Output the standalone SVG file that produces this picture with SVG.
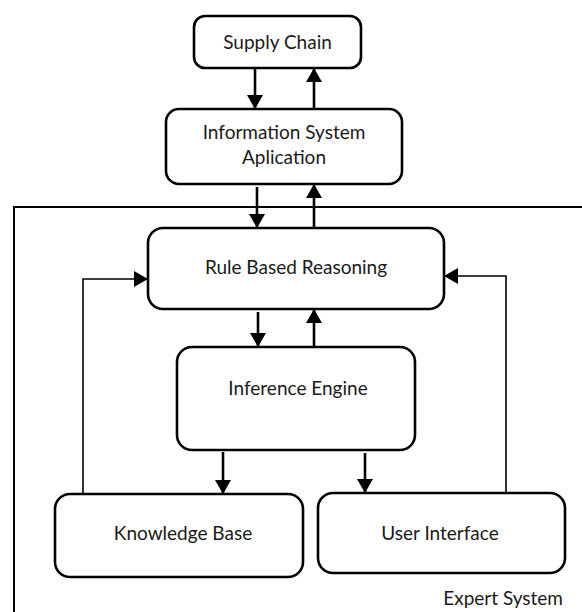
<svg xmlns="http://www.w3.org/2000/svg" width="582" height="612" viewBox="0 0 582 612">
<defs>
<style>
.box{fill:#fff;stroke:#000;stroke-width:2.6}
.t{font-family:Lato,"Liberation Sans",sans-serif;font-size:19px;fill:#1a1a1a;text-anchor:middle}
.a{stroke:#000;stroke-width:2.6;fill:none}
.l{stroke:#000;stroke-width:1.6;fill:none}
</style>
<marker id="ah" markerWidth="16" markerHeight="16" viewBox="0 0 16 16" refX="14" refY="8" orient="auto" markerUnits="userSpaceOnUse">
<path d="M0,0 L14,8 L0,16 Z" fill="#000"/>
</marker>
</defs>
<rect width="582" height="612" fill="#fff"/>
<g id="expert-system-frame">
<path d="M14,612 L14,207 L584,207" class="l" style="stroke-width:2"/>
<text x="563" y="605" class="t" style="text-anchor:end">Expert System</text>
</g>
<g id="supply-chain">
<rect x="194" y="16" width="167" height="52" rx="11" class="box"/>
<text x="277.5" y="49" class="t">Supply Chain</text>
</g>
<g id="information-system">
<rect x="166" y="109" width="236" height="75" rx="13" class="box"/>
<text x="284" y="139" class="t">Information System</text>
<text x="284" y="164" class="t">Aplication</text>
</g>
<g id="rule-based-reasoning">
<rect x="148" y="228" width="296" height="81" rx="15" class="box"/>
<text x="296" y="274" class="t">Rule Based Reasoning</text>
</g>
<g id="inference-engine">
<rect x="177" y="347" width="238" height="103" rx="15" class="box"/>
<text x="298" y="395" class="t">Inference Engine</text>
</g>
<g id="knowledge-base">
<rect x="55" y="494" width="248" height="83" rx="15" class="box"/>
<text x="183" y="540" class="t">Knowledge Base</text>
</g>
<g id="user-interface">
<rect x="318" y="493" width="247" height="80" rx="15" class="box"/>
<text x="440" y="540" class="t">User Interface</text>
</g>
<g id="connectors">
<path d="M255,68 L255,109" class="a" marker-end="url(#ah)"/>
<path d="M314,109 L314,68" class="a" marker-end="url(#ah)"/>
<path d="M257,187 L257,228" class="a" marker-end="url(#ah)"/>
<path d="M314,228 L314,184" class="a" marker-end="url(#ah)"/>
<path d="M258,312 L258,347" class="a" marker-end="url(#ah)"/>
<path d="M314,347 L314,309" class="a" marker-end="url(#ah)"/>
<path d="M223,452 L223,494" class="a" marker-end="url(#ah)"/>
<path d="M365,453 L365,493" class="a" marker-end="url(#ah)"/>
<path d="M83,494 L83,279 L148,279" class="l" marker-end="url(#ah)"/>
<path d="M506,493 L506,276 L444,276" class="l" marker-end="url(#ah)"/>
</g>
</svg>
